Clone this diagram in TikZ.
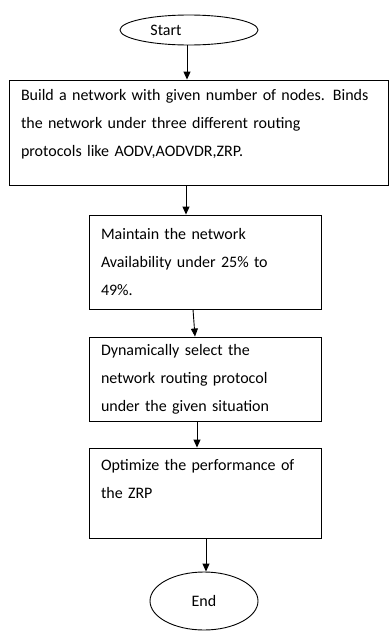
\documentclass[tikz,border=0pt]{standalone}
\usepackage{fontspec}
\setmainfont{Carlito}
\usetikzlibrary{shapes.geometric,arrows.meta}

\begin{document}
\begin{tikzpicture}[x=1pt,y=-1pt]
        \tikzset{terminal/.style={draw,ellipse,line width=0.9pt,inner sep=0pt,
                font=\fontsize{16}{18}\selectfont},
            process/.style={draw,rectangle,line width=0.9pt,align=left,
                font=\fontsize{16}{28}\selectfont,inner xsep=12pt,inner ysep=0pt},
            arr/.style={draw,line width=0.9pt,-{Triangle[length=8pt,width=7pt]}}}
        \useasboundingbox (0,0) rectangle (390,632);
        \node[terminal,minimum width=138pt,minimum height=30pt]
            (start) at (189,30) {Start\hspace*{46pt}};
        \node[process,minimum width=379pt,minimum height=105pt,text width=355pt]
            (build) at (198.5,132.5)
            {Build a network with given number of nodes. Binds\\
             the network under three different routing\\
             protocols like AODV,AODVDR,ZRP.\\[-8pt]\mbox{}};
        \node[process,minimum width=232pt,minimum height=94pt,text width=208pt]
            (maintain) at (205,262)
            {Maintain the network\\ Availability under 25\% to\\ 49\%.};
        \node[process,minimum width=232pt,minimum height=84pt,text width=208pt]
            (select) at (205,379)
            {Dynamically select the\\ network routing protocol\\ under the given situation};
        \node[process,minimum width=232pt,minimum height=90pt,text width=208pt]
            (optimize) at (205,493)
            {Optimize the performance of\\ the ZRP\\ \mbox{}};
        \node[terminal,minimum width=108pt,minimum height=58pt]
            (end) at (204,601) {End};
        \draw[arr] ([xshift=-2pt]start.south) -- ([xshift=-2pt]start.south |- build.north);
        \draw[arr] ([xshift=-3pt]start.south |- build.south) -- ([xshift=-3pt]start.south |- maintain.north);
        \draw[arr] ([xshift=-12pt]maintain.south) -- ([xshift=-10pt]select.north);
        \draw[arr] ([xshift=-8pt]select.south) -- ([xshift=-8pt]optimize.north);
        \draw[arr] ([xshift=2pt]end.north |- optimize.south) -- ([xshift=2pt]end.north);
\end{tikzpicture}
\end{document}
